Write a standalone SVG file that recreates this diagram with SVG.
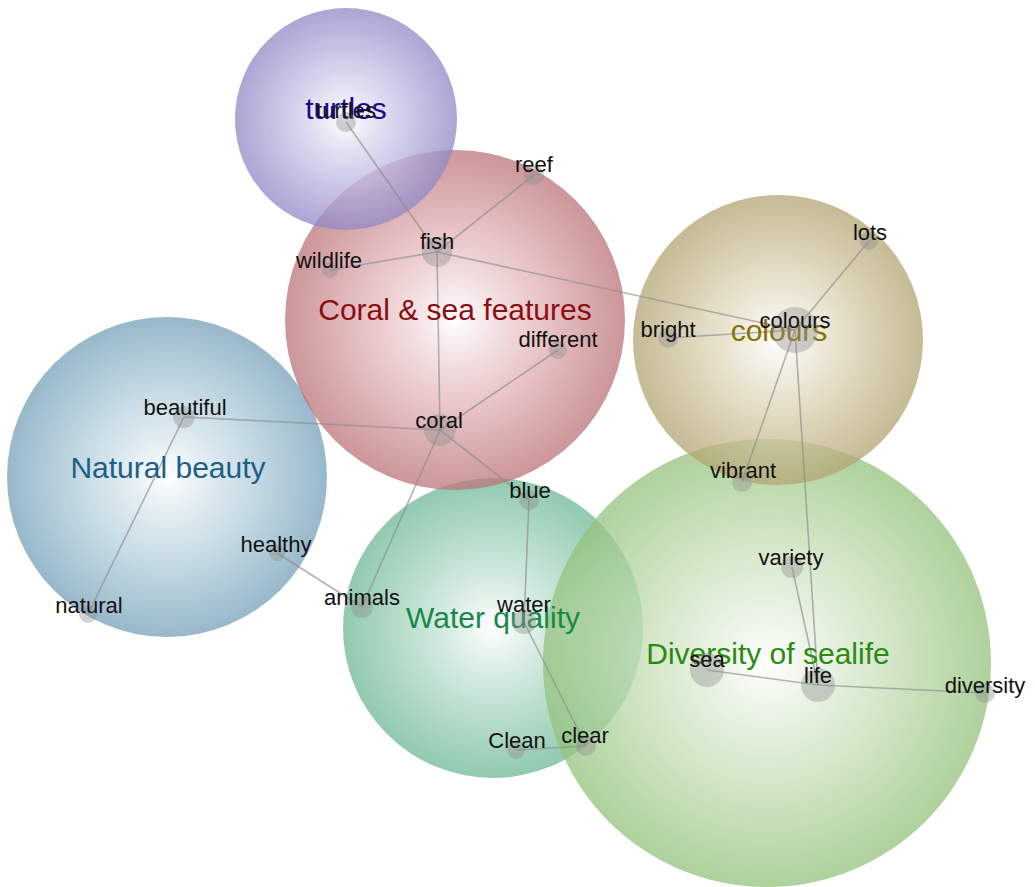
<svg xmlns="http://www.w3.org/2000/svg" width="1035" height="887" viewBox="0 0 1035 887">
  <defs>
    <radialGradient id="g-turtles">
      <stop offset="0" stop-color="#ffffff" stop-opacity="0.95"/>
      <stop offset="0.5" stop-color="#c9c3e6" stop-opacity="0.8"/>
      <stop offset="1" stop-color="#9088c6" stop-opacity="0.75"/>
    </radialGradient>
    <radialGradient id="g-coral">
      <stop offset="0" stop-color="#ffffff" stop-opacity="0.95"/>
      <stop offset="0.5" stop-color="#e4b9bc" stop-opacity="0.8"/>
      <stop offset="1" stop-color="#bb7479" stop-opacity="0.75"/>
    </radialGradient>
    <radialGradient id="g-colours">
      <stop offset="0" stop-color="#ffffff" stop-opacity="0.95"/>
      <stop offset="0.5" stop-color="#ddd4b6" stop-opacity="0.8"/>
      <stop offset="1" stop-color="#b3a472" stop-opacity="0.75"/>
    </radialGradient>
    <radialGradient id="g-beauty">
      <stop offset="0" stop-color="#ffffff" stop-opacity="0.95"/>
      <stop offset="0.5" stop-color="#bcd5e0" stop-opacity="0.8"/>
      <stop offset="1" stop-color="#7ea7bd" stop-opacity="0.8"/>
    </radialGradient>
    <radialGradient id="g-water">
      <stop offset="0" stop-color="#ffffff" stop-opacity="0.95"/>
      <stop offset="0.5" stop-color="#b5dcc9" stop-opacity="0.8"/>
      <stop offset="1" stop-color="#6db896" stop-opacity="0.75"/>
    </radialGradient>
    <radialGradient id="g-diversity">
      <stop offset="0" stop-color="#ffffff" stop-opacity="0.95"/>
      <stop offset="0.5" stop-color="#cde3c0" stop-opacity="0.8"/>
      <stop offset="1" stop-color="#94c27c" stop-opacity="0.75"/>
    </radialGradient>
  </defs>
  <style>
    .edge { stroke: #8c8c8c; stroke-opacity: 0.65; stroke-width: 1.6; fill: none; }
    .dot { fill: #8f8f8f; fill-opacity: 0.4; }
    .word { font-family: "Liberation Sans", Arial, sans-serif; font-size: 22px; fill: #111; text-anchor: middle; }
    .cluster { font-family: "Liberation Sans", Arial, sans-serif; font-size: 30px; text-anchor: middle; }
  </style>

  <!-- cluster bubbles -->
  <g id="clusters">
    <circle id="c-beauty" cx="167" cy="477" r="160" fill="url(#g-beauty)"/>
    <circle id="c-water" cx="493" cy="628" r="150" fill="url(#g-water)"/>
    <circle id="c-diversity" cx="767" cy="663" r="224" fill="url(#g-diversity)"/>
    <circle id="c-colours" cx="778" cy="340" r="145" fill="url(#g-colours)"/>
    <circle id="c-coral" cx="455" cy="320" r="170" fill="url(#g-coral)"/>
    <circle id="c-turtles" cx="346" cy="119" r="111" fill="url(#g-turtles)"/>
  </g>

  <!-- connectors -->
  <g id="edges">
    <line class="edge" x1="346" y1="122" x2="437" y2="252"/>
    <line class="edge" x1="437" y1="252" x2="534" y2="175"/>
    <line class="edge" x1="437" y1="252" x2="330" y2="270"/>
    <line class="edge" x1="437" y1="252" x2="795" y2="330"/>
    <line class="edge" x1="437" y1="252" x2="440" y2="430"/>
    <line class="edge" x1="440" y1="430" x2="558" y2="350"/>
    <line class="edge" x1="440" y1="430" x2="184" y2="417"/>
    <line class="edge" x1="440" y1="430" x2="529" y2="500"/>
    <line class="edge" x1="440" y1="430" x2="362" y2="607"/>
    <line class="edge" x1="184" y1="417" x2="88" y2="614"/>
    <line class="edge" x1="277" y1="553" x2="362" y2="607"/>
    <line class="edge" x1="529" y1="500" x2="524" y2="622"/>
    <line class="edge" x1="524" y1="622" x2="586" y2="746"/>
    <line class="edge" x1="586" y1="746" x2="516" y2="750"/>
    <line class="edge" x1="668" y1="338" x2="795" y2="330"/>
    <line class="edge" x1="795" y1="330" x2="869" y2="241"/>
    <line class="edge" x1="795" y1="330" x2="742" y2="482"/>
    <line class="edge" x1="795" y1="330" x2="818" y2="685"/>
    <line class="edge" x1="792" y1="567" x2="818" y2="685"/>
    <line class="edge" x1="707" y1="670" x2="818" y2="685"/>
    <line class="edge" x1="818" y1="685" x2="985" y2="693"/>
  </g>

  <!-- cluster titles -->
  <g id="titles">
    <text class="cluster" x="346" y="119" fill="#1c0a8e">turtles</text>
    <text class="cluster" x="455" y="320" fill="#8c0d12">Coral &amp; sea features</text>
    <text class="cluster" x="779" y="341" fill="#8a7209">colours</text>
    <text class="cluster" x="168" y="478" fill="#1d5f85">Natural beauty</text>
    <text class="cluster" x="493" y="628" fill="#17884a">Water quality</text>
    <text class="cluster" x="768" y="664" fill="#2b8a12">Diversity of sealife</text>
  </g>

  <!-- word nodes -->
  <g id="n-turtles"><circle class="dot" cx="346" cy="122" r="10"/><text class="word" x="346" y="118">turtles</text></g>
  <g id="n-reef"><circle class="dot" cx="534" cy="175" r="10"/><text class="word" x="534" y="172">reef</text></g>
  <g id="n-fish"><circle class="dot" cx="437" cy="252" r="15"/><text class="word" x="437" y="249">fish</text></g>
  <g id="n-wildlife"><circle class="dot" cx="330" cy="270" r="8"/><text class="word" x="329" y="268">wildlife</text></g>
  <g id="n-different"><circle class="dot" cx="558" cy="350" r="9"/><text class="word" x="558" y="347">different</text></g>
  <g id="n-coral"><circle class="dot" cx="440" cy="430" r="16"/><text class="word" x="439" y="428">coral</text></g>
  <g id="n-beautiful"><circle class="dot" cx="184" cy="417" r="11"/><text class="word" x="185" y="415">beautiful</text></g>
  <g id="n-healthy"><circle class="dot" cx="277" cy="553" r="8"/><text class="word" x="276" y="552">healthy</text></g>
  <g id="n-natural"><circle class="dot" cx="88" cy="614" r="9"/><text class="word" x="89" y="613">natural</text></g>
  <g id="n-animals"><circle class="dot" cx="362" cy="607" r="11"/><text class="word" x="362" y="605">animals</text></g>
  <g id="n-blue"><circle class="dot" cx="529" cy="500" r="10"/><text class="word" x="530" y="498">blue</text></g>
  <g id="n-water"><circle class="dot" cx="524" cy="622" r="12"/><text class="word" x="524" y="612">water</text></g>
  <g id="n-clean"><circle class="dot" cx="516" cy="750" r="9"/><text class="word" x="517" y="748">Clean</text></g>
  <g id="n-clear"><circle class="dot" cx="586" cy="746" r="10"/><text class="word" x="585" y="743">clear</text></g>
  <g id="n-bright"><circle class="dot" cx="668" cy="338" r="10"/><text class="word" x="668" y="337">bright</text></g>
  <g id="n-colours"><circle class="dot" cx="795" cy="330" r="23"/><text class="word" x="795" y="328">colours</text></g>
  <g id="n-lots"><circle class="dot" cx="869" cy="241" r="9"/><text class="word" x="870" y="240">lots</text></g>
  <g id="n-vibrant"><circle class="dot" cx="742" cy="482" r="10"/><text class="word" x="743" y="478">vibrant</text></g>
  <g id="n-variety"><circle class="dot" cx="792" cy="567" r="11"/><text class="word" x="791" y="565">variety</text></g>
  <g id="n-sea"><circle class="dot" cx="707" cy="670" r="17"/><text class="word" x="707" y="667">sea</text></g>
  <g id="n-life"><circle class="dot" cx="818" cy="685" r="17"/><text class="word" x="818" y="683">life</text></g>
  <g id="n-diversity"><circle class="dot" cx="985" cy="693" r="10"/><text class="word" x="985" y="693">diversity</text></g>
</svg>
